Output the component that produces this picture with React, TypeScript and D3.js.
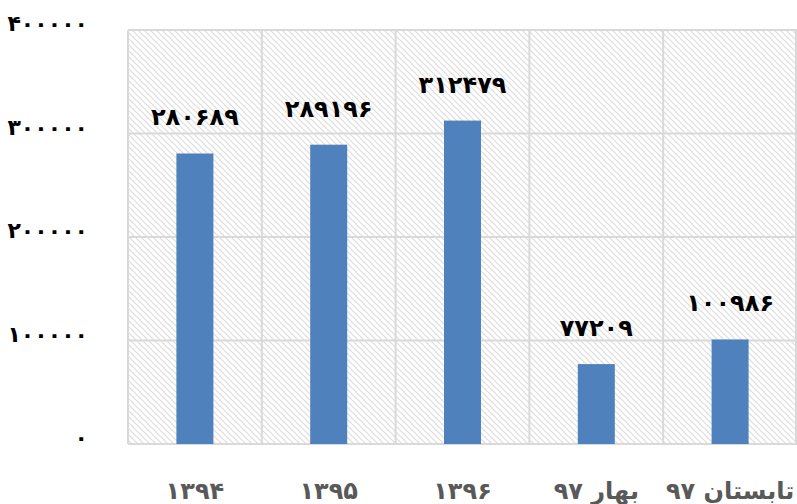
import React from "react";
import * as d3 from "d3";

const categories: string[] = ["۱۳۹۴", "۱۳۹۵", "۱۳۹۶", "بهار ۹۷", "تابستان ۹۷"];
const values: number[] = [280689, 289196, 312479, 77209, 100986];
const yTicks: number[] = [0, 100000, 200000, 300000, 400000];

const W = 797;
const H = 504;
const margin = { left: 128, right: 0, top: 30, bottom: 60 };

const toPersian = (n: number | string) =>
  String(n).replace(/\d/g, (d) => "۰۱۲۳۴۵۶۷۸۹"[+d]);

const FONT = "'DejaVu Sans', sans-serif";

export default function App() {
  const x = d3
    .scaleBand<string>()
    .domain(categories)
    .range([margin.left, W - margin.right])
    .paddingInner(0)
    .paddingOuter(0);
  const y = d3
    .scaleLinear()
    .domain([0, 400000])
    .range([H - margin.bottom, margin.top]);
  const barW = 37;
  const plotTop = y(400000);
  const plotBottom = y(0);

  return (
    <svg
      width={W}
      height={H}
      style={{ position: "absolute", left: 0, top: 0, background: "#fff" }}
    >
      <defs>
        <pattern
          id="hatch"
          width={6}
          height={6}
          patternUnits="userSpaceOnUse"
        >
          <rect width={6} height={6} fill="#fff" />
          <path
            d="M-1,-1 L7,7 M-1,5 L1,7 M5,-1 L7,1"
            stroke="#dcdcdc"
            strokeWidth={1.1}
          />
        </pattern>
      </defs>
      <rect
        x={margin.left}
        y={plotTop}
        width={W - margin.right - margin.left}
        height={plotBottom - plotTop}
        fill="url(#hatch)"
      />
      {yTicks.map((t) => (
        <line
          key={"gy" + t}
          x1={margin.left}
          x2={W - margin.right}
          y1={y(t)}
          y2={y(t)}
          stroke="#d9d9d9"
          strokeWidth={2}
        />
      ))}
      {categories.map((c) => (
        <line
          key={"gx" + c}
          x1={x(c)!}
          x2={x(c)!}
          y1={plotTop}
          y2={plotBottom}
          stroke="#d9d9d9"
          strokeWidth={2}
        />
      ))}
      <line
        x1={W - margin.right - 1}
        x2={W - margin.right - 1}
        y1={plotTop}
        y2={plotBottom}
        stroke="#d9d9d9"
        strokeWidth={2}
      />
      {categories.map((c, i) => {
        const cx = x(c)! + x.bandwidth() / 2;
        return (
          <g key={"b" + c}>
            <rect
              x={cx - barW / 2}
              y={y(values[i])}
              width={barW}
              height={plotBottom - y(values[i])}
              fill="#4f81bd"
            />
            <text
              x={cx}
              y={y(values[i]) - 28}
              textAnchor="middle"
              fontFamily={FONT}
              fontWeight="bold"
              fontSize={24}
              fill="#000"
            >
              {toPersian(values[i])}
            </text>
            <text
              x={cx}
              y={499}
              textAnchor="middle"
              fontFamily={FONT}
              fontWeight="bold"
              fontSize={24}
              fill="#595959"
              direction="rtl"
            >
              {c}
            </text>
          </g>
        );
      })}
      {yTicks.map((t) => (
        <text
          key={"yl" + t}
          x={88}
          y={y(t) - 5}
          textAnchor="end"
          fontFamily={FONT}
          fontWeight="bold"
          fontSize={22}
          fill="#000"
          dominantBaseline="middle"
        >
          {toPersian(t)}
        </text>
      ))}
    </svg>
  );
}
